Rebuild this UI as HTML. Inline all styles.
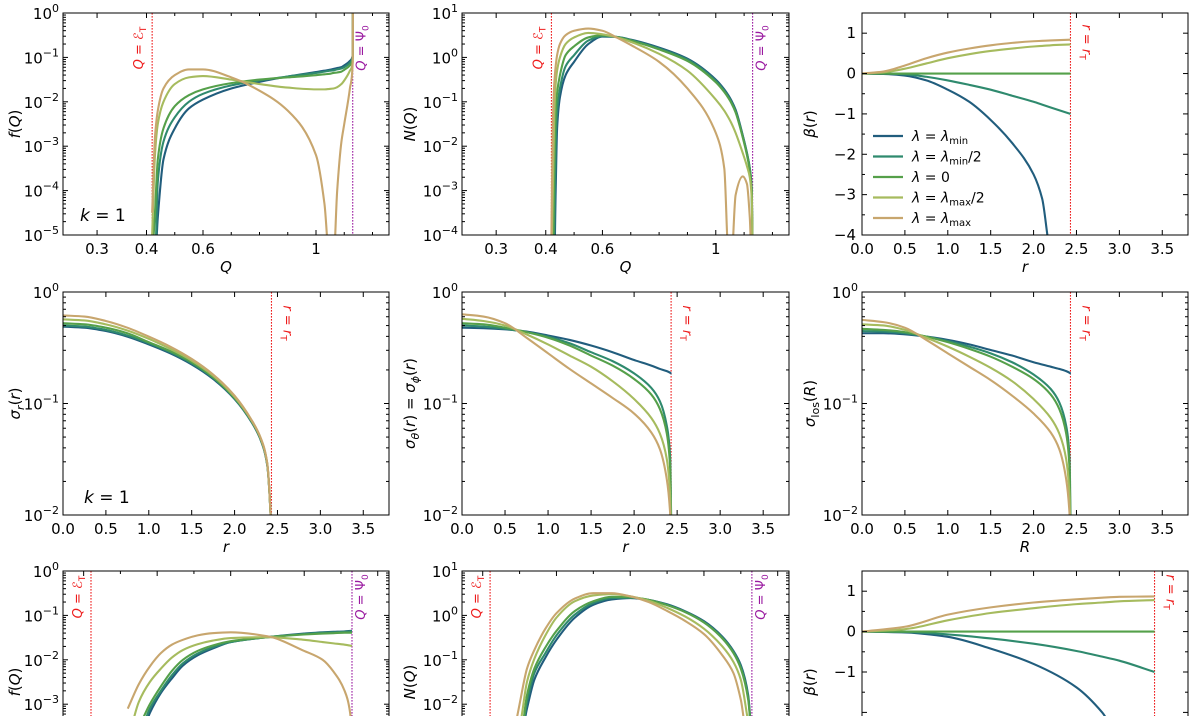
<!DOCTYPE html>
<html><head><meta charset="utf-8"><style>
html,body{margin:0;padding:0;background:#fff;width:1196px;height:716px;overflow:hidden;}
svg{display:block;font-family:"DejaVu Sans","Liberation Sans",sans-serif;}
</style></head><body>
<svg id="fig" width="1196" height="716" viewBox="0 0 1196 716" xmlns="http://www.w3.org/2000/svg"></svg>
<script>
// ---------- data ----------
const seriesNames = ['λ=λmin','λ=λmin/2','λ=0','λ=λmax/2','λ=λmax'];
const colors = ['#215d7d','#2f8a6e','#55a04a','#a6bb5e','#c8a66e'];

// Row 1, panel 1: log10 f(Q)
const p1Q = [0.42,0.43,0.44,0.46,0.5,0.55,0.6,0.7,0.8,0.9,1.0,1.03,1.048,1.062,1.075,1.09,1.1,1.12,1.13,1.1305];
const p1Blue = [-9,-9,-4.6,-3.3,-2.6,-2.15,-1.95,-1.7,-1.55,-1.43,-1.33,-1.3,-1.28,-1.26,-1.24,-1.22,-1.18,-1.08,-0.95,0];
const p1Teal = [-9,-6,-3.8,-2.9,-2.35,-2.0,-1.82,-1.63,-1.52,-1.43,-1.35,-1.32,-1.3,-1.29,-1.27,-1.25,-1.22,-1.12,-0.98,0];
const p1Green = [-9,-4.5,-3.3,-2.6,-2.1,-1.85,-1.72,-1.58,-1.5,-1.45,-1.4,-1.38,-1.37,-1.35,-1.34,-1.32,-1.28,-1.18,-1.02,0];
const p1Light = [-5,-3.2,-2.5,-2.0,-1.6,-1.45,-1.42,-1.5,-1.6,-1.68,-1.72,-1.72,-1.71,-1.7,-1.67,-1.6,-1.52,-1.3,-1.1,0];
const p1Tan = [-4.5,-2.8,-2.2,-1.7,-1.4,-1.27,-1.27,-1.45,-1.75,-2.2,-3.2,-4.3,-6,-6,-4,-2.9,-2.5,-1.7,-1.1,0];

// Row 1, panel 2: log10 N(Q)
const p2Q = [0.42,0.425,0.43,0.435,0.44,0.45,0.47,0.5,0.55,0.6,0.65,0.7,0.8,0.9,1.0,1.03,1.045,1.055,1.07,1.095,1.11,1.12,1.127,1.13];
const p2Blue = [-9,-9,-6,-3,-1.6,-0.9,-0.4,-0.1,0.3,0.47,0.46,0.4,0.22,-0.03,-0.5,-0.72,-0.86,-0.97,-1.18,-1.75,-2.15,-2.5,-3.0,-6];
const p2Teal = [-9,-9,-4,-2,-1.2,-0.7,-0.2,0.05,0.38,0.48,0.46,0.39,0.2,-0.05,-0.53,-0.75,-0.89,-1.0,-1.21,-1.77,-2.17,-2.5,-3,-6];
const p2Green = [-9,-6,-2.5,-1.3,-0.8,-0.4,0.05,0.25,0.45,0.5,0.46,0.38,0.18,-0.08,-0.56,-0.78,-0.92,-1.03,-1.24,-1.8,-2.2,-2.55,-3,-6];
const p2Light = [-9,-3,-1.3,-0.6,-0.3,0,0.3,0.45,0.55,0.52,0.45,0.35,0.08,-0.3,-0.95,-1.2,-1.36,-1.48,-1.7,-2.15,-2.45,-2.7,-3.2,-6];
const p2Tan = [-4,-1.5,-0.6,-0.2,0.05,0.3,0.5,0.6,0.65,0.6,0.45,0.28,-0.1,-0.7,-1.7,-2.5,-4.5,-5.5,-3.1,-2.68,-2.85,-3.6,-6,-6];

// Row 1, panel 3: beta(r)
const p3R = [0,0.25,0.5,0.75,1,1.25,1.5,1.75,2,2.1,2.2,2.43];
const p3Blue = [0,-0.01,-0.05,-0.17,-0.4,-0.7,-1.15,-1.72,-2.5,-3.1,-4.4,-8];
const p3Teal = [0,0,-0.02,-0.08,-0.17,-0.28,-0.4,-0.55,-0.7,-0.77,-0.84,-1.0];
const p3Green = [0,0,0,0,0,0,0,0,0,0,0,0];
const p3Light = [0,0.03,0.12,0.25,0.38,0.48,0.56,0.62,0.67,0.685,0.7,0.72];
const p3Tan = [0,0.05,0.2,0.38,0.52,0.62,0.7,0.76,0.8,0.81,0.82,0.84];

// Row 2: log10 dispersions
const r2R = [0,0.25,0.5,0.75,1,1.25,1.5,1.75,2,2.2,2.3,2.38,2.42,2.43,2.435];
const p4Blue = [-0.31,-0.32,-0.35,-0.4,-0.47,-0.55,-0.65,-0.78,-0.96,-1.17,-1.32,-1.55,-2,-2.5,-3];
const p4Teal = [-0.3,-0.31,-0.34,-0.39,-0.46,-0.54,-0.64,-0.77,-0.955,-1.165,-1.315,-1.545,-2,-2.5,-3];
const p4Green = [-0.28,-0.29,-0.32,-0.37,-0.45,-0.53,-0.63,-0.765,-0.95,-1.16,-1.31,-1.54,-2,-2.5,-3];
const p4Light = [-0.245,-0.255,-0.29,-0.345,-0.42,-0.51,-0.615,-0.75,-0.94,-1.155,-1.305,-1.535,-2,-2.5,-3];
const p4Tan = [-0.21,-0.22,-0.26,-0.32,-0.4,-0.49,-0.6,-0.74,-0.93,-1.15,-1.3,-1.53,-2,-2.5,-3];

const p5Blue = [-0.32,-0.325,-0.335,-0.355,-0.39,-0.43,-0.48,-0.54,-0.61,-0.66,-0.69,-0.71,-0.725,-0.73,-0.73];
const p5Teal = [-0.3,-0.31,-0.33,-0.36,-0.4,-0.46,-0.54,-0.62,-0.73,-0.86,-0.98,-1.2,-1.5,-2,-3];
const p5Green = [-0.28,-0.29,-0.32,-0.36,-0.41,-0.48,-0.57,-0.66,-0.78,-0.92,-1.05,-1.27,-1.6,-2.1,-3];
const p5Light = [-0.24,-0.26,-0.3,-0.38,-0.47,-0.57,-0.67,-0.8,-0.96,-1.13,-1.27,-1.5,-1.85,-2.3,-3];
const p5Tan = [-0.2,-0.22,-0.28,-0.41,-0.55,-0.69,-0.82,-0.95,-1.09,-1.26,-1.41,-1.68,-2.0,-2.5,-3];

const p6Blue = [-0.37,-0.37,-0.38,-0.4,-0.43,-0.47,-0.52,-0.57,-0.63,-0.67,-0.69,-0.71,-0.725,-0.73,-0.73];
const p6Teal = [-0.35,-0.355,-0.37,-0.4,-0.44,-0.49,-0.55,-0.63,-0.74,-0.87,-0.99,-1.2,-1.5,-2,-3];
const p6Green = [-0.33,-0.34,-0.36,-0.4,-0.45,-0.51,-0.58,-0.67,-0.78,-0.92,-1.05,-1.27,-1.6,-2.1,-3];
const p6Light = [-0.29,-0.3,-0.34,-0.41,-0.49,-0.58,-0.68,-0.8,-0.96,-1.13,-1.27,-1.5,-1.85,-2.3,-3];
const p6Tan = [-0.25,-0.27,-0.32,-0.43,-0.55,-0.67,-0.79,-0.93,-1.09,-1.26,-1.41,-1.68,-2.0,-2.5,-3];

// Row 3, panel 1: log10 f(Q)
const p7Q = [0.52,0.55,0.58,0.61,0.64,0.67,0.71,0.75,0.8,0.9,1.0,1.05,1.08,1.11,1.125,1.13];
const p7Blue = [-5,-4,-3.2,-2.75,-2.42,-2.13,-1.9,-1.75,-1.6,-1.49,-1.41,-1.38,-1.37,-1.36,-1.35,-1.35];
const p7Teal = [-5,-3.7,-3.1,-2.7,-2.35,-2.08,-1.86,-1.72,-1.6,-1.49,-1.42,-1.39,-1.38,-1.37,-1.36,-1.36];
const p7Green = [-5,-3.5,-3.0,-2.6,-2.25,-2.0,-1.8,-1.68,-1.58,-1.49,-1.43,-1.41,-1.40,-1.39,-1.39,-1.39];
const p7Light = [-4,-2.95,-2.5,-2.2,-1.95,-1.78,-1.65,-1.57,-1.51,-1.49,-1.55,-1.6,-1.63,-1.66,-1.68,-1.69];
const p7Tan = [-3.1,-2.55,-2.15,-1.85,-1.66,-1.55,-1.45,-1.4,-1.38,-1.47,-1.8,-2.0,-2.27,-2.7,-3.2,-4];

// Row 3, panel 2: log10 N(Q)
const p8Q = [0.48,0.5,0.52,0.54,0.57,0.6,0.65,0.7,0.75,0.8,0.85,0.9,0.95,1.0,1.05,1.08,1.1,1.12,1.13];
const p8Blue = [-5,-3.5,-2.1,-1.45,-0.95,-0.55,-0.05,0.24,0.36,0.39,0.35,0.25,0.09,-0.13,-0.48,-0.8,-1.12,-1.8,-5];
const p8Teal = [-5,-3.2,-1.95,-1.3,-0.85,-0.45,0.02,0.28,0.39,0.4,0.35,0.24,0.08,-0.15,-0.5,-0.82,-1.15,-1.85,-5];
const p8Green = [-5,-3,-1.8,-1.2,-0.72,-0.35,0.1,0.32,0.42,0.41,0.35,0.23,0.07,-0.16,-0.52,-0.85,-1.2,-1.9,-5];
const p8Light = [-5,-2.5,-1.5,-0.98,-0.45,-0.05,0.32,0.45,0.48,0.43,0.33,0.17,-0.03,-0.3,-0.7,-1.05,-1.45,-2.4,-5];
const p8Tan = [-4,-2.0,-1.2,-0.78,-0.3,0.05,0.38,0.5,0.5,0.43,0.3,0.1,-0.13,-0.42,-0.9,-1.3,-1.9,-4,-5];

// Row 3, panel 3: beta(r)
const p9R = [0,0.5,1,1.5,2,2.5,2.8,3.0,3.41];
const p9Blue = [0,-0.02,-0.13,-0.42,-0.8,-1.38,-2.0,-2.6,-5];
const p9Teal = [0,-0.01,-0.07,-0.17,-0.3,-0.48,-0.62,-0.72,-1.0];
const p9Green = [0,0,0,0,0,0,0,0,0];
const p9Light = [0,0.06,0.28,0.46,0.58,0.68,0.72,0.75,0.78];
const p9Tan = [0,0.12,0.42,0.6,0.72,0.8,0.84,0.86,0.87];

// tick labels
const qTickVals = [0.225,0.4,0.6,1.0];
const qTickLabels = ['0.3','0.4','0.6','1'];
const qMinor = [0.5,0.7,0.8,0.9,1.1,1.2];
const rTickVals = [0,0.5,1,1.5,2,2.5,3,3.5];
const rTickLabels = ['0.0','0.5','1.0','1.5','2.0','2.5','3.0','3.5'];
const betaTicks1 = [1,0,-1,-2,-3,-4];
const betaTicks3 = [1,0,-1,-2];
const legendLabels = [['λ = λ','min',''],['λ = λ','min','/2'],['λ = 0','',''],['λ = λ','max','/2'],['λ = λ','max','']];

// ---------- drawing ----------
const NS='http://www.w3.org/2000/svg';
const svg=document.getElementById('fig');
function mk(tag,attrs,parent){const e=document.createElementNS(NS,tag);for(const k in attrs)e.setAttribute(k,attrs[k]);(parent||svg).appendChild(e);return e;}

function smoothPath(pts){
  const n=pts.length;
  const dx=[],m=[],t=new Array(n);
  for(let i=0;i<n-1;i++){dx[i]=pts[i+1][0]-pts[i][0];m[i]=(pts[i+1][1]-pts[i][1])/(dx[i]||1e-6);}
  t[0]=m[0];t[n-1]=m[n-2];
  for(let i=1;i<n-1;i++){
    if(m[i-1]*m[i]<=0)t[i]=0;
    else{const w1=2*dx[i]+dx[i-1],w2=dx[i]+2*dx[i-1];t[i]=(w1+w2)/(w1/m[i-1]+w2/m[i]);}
  }
  let d='M'+pts[0][0].toFixed(2)+','+pts[0][1].toFixed(2);
  for(let i=0;i<n-1;i++){
    const h=dx[i]/3;
    d+=' C'+(pts[i][0]+h).toFixed(2)+','+(pts[i][1]+t[i]*h).toFixed(2)+' '+(pts[i+1][0]-h).toFixed(2)+','+(pts[i+1][1]-t[i+1]*h).toFixed(2)+' '+pts[i+1][0].toFixed(2)+','+pts[i+1][1].toFixed(2);
  }
  return d;
}

function supText(parent,x,y,base,exp,anchor,name){
  const t=mk('text',{x:x,y:y,'font-size':15,'text-anchor':anchor||'end',fill:'#000'},parent);
  
  
  const a=mk('tspan',{},t);a.textContent=base;
  const b=mk('tspan',{'font-size':11,dy:-7},t);b.textContent=exp;
  return t;
}

let clipId=0;
function panel(cfg){
  const g=mk('g',{});
  
  
  const {x0,x1,y0,y1,xmin,xmax,ymin,ymax}=cfg;
  const sx=v=>x0+(v-xmin)/(xmax-xmin)*(x1-x0);
  const sy=v=>y1-(v-ymin)/(ymax-ymin)*(y1-y0);
  const id='clip'+(clipId++);
  const cp=mk('clipPath',{id:id},g);mk('rect',{x:x0,y:y0,width:x1-x0,height:y1-y0},cp);
  const plot=mk('g',{'clip-path':'url(#'+id+')'},g);
  
  
  (cfg.vlines||[]).forEach(vl=>{
    const ln=mk('line',{x1:sx(vl.v),x2:sx(vl.v),y1:y0,y2:y1,stroke:vl.color,'stroke-width':1.1,'stroke-dasharray':'1.6,1.4'},plot);
    
    
  });
  cfg.series.forEach((vals,i)=>{
    const pts=cfg.xs.map((xv,j)=>[sx(xv),Math.max(y0-40,Math.min(y1+25,sy(vals[j])))]);
    const p=mk('path',{d:smoothPath(pts),fill:'none',stroke:colors[i],'stroke-width':2.1,'stroke-linejoin':'round'},plot);
    
    
  });
  (cfg.vlines||[]).forEach(vl=>{
    const tx=sx(vl.v)+vl.dx;
    const t=mk('text',{x:0,y:0,'font-size':13,fill:vl.color,'text-anchor':'middle',transform:'translate('+tx+','+vl.ty+') rotate('+vl.rot+')'},g);
    
    
    const a=mk('tspan',{'font-style':'italic'},t);a.textContent=vl.l1;
    const b=mk('tspan',{},t);b.textContent=' = ';
    const c=mk('tspan',{'font-style':vl.l2it?'italic':'normal'},t);c.textContent=vl.l2;
    const d=mk('tspan',{'font-size':9,dy:3},t);d.textContent=vl.sub;
  });
  const fr=mk('rect',{x:x0,y:y0,width:x1-x0,height:y1-y0,fill:'none',stroke:'#000','stroke-width':1},g);
  
  
  const tk=mk('g',{stroke:'#000','stroke-width':1},g);
  
  
  function xt(v,len){const X=sx(v);if(X<x0-0.5||X>x1+0.5)return;if(y1<716)mk('line',{x1:X,x2:X,y1:y1,y2:y1-len},tk);mk('line',{x1:X,x2:X,y1:y0,y2:y0+len},tk);}
  function yt(v,len){const Y=sy(v);if(Y<y0-0.5||Y>y1+0.5||Y>715)return;mk('line',{x1:x0,x2:x0+len,y1:Y,y2:Y},tk);mk('line',{x1:x1,x2:x1-len,y1:Y,y2:Y},tk);}
  cfg.xTicks.forEach((v,i)=>{xt(v,5);
    if(cfg.xLabels){const t=mk('text',{x:sx(v),y:y1+19,'font-size':15,'text-anchor':'middle'},g);t.textContent=cfg.xLabels[i];
      
      }
  });
  (cfg.xMinor||[]).forEach(v=>xt(v,3));
  if(cfg.ylog){
    for(let e=Math.ceil(ymin);e<=ymax;e++){yt(e,5);const Y=sy(e);if(Y<=712)supText(g,x0-4,Y+6,'10',e<0?'−'+(-e):String(e),'end','y-tick-label');}
    for(let e=Math.floor(ymin);e<ymax;e++)for(let m=2;m<10;m++){const v=e+Math.log10(m);if(v>ymin&&v<ymax)yt(v,3);}
  } else {
    cfg.yTicks.forEach(v=>{yt(v,5);const Y=sy(v);if(Y>712)return;const t=mk('text',{x:x0-6,y:Y+5,'font-size':15,'text-anchor':'end'},g);t.textContent=(v<0?'−'+(-v):String(v));
      
      });
    for(let v=Math.ceil(ymin*2)/2;v<=ymax;v+=0.5){if(Math.abs(v-Math.round(v))>0.1)yt(v,3);}
  }
  if(cfg.xTitle){const t=mk('text',{x:(x0+x1)/2,y:y1+37,'font-size':15,'text-anchor':'middle','font-style':'italic'},g);t.textContent=cfg.xTitle;
    
    }
  const yl=mk('text',{x:0,y:0,'font-size':15,'text-anchor':'middle',transform:'translate('+cfg.ylx+','+(cfg.yly||((y0+y1)/2))+') rotate(-90)'},g);
  
  
  cfg.yTitle.forEach(p=>{const s=mk('tspan',p[1],yl);s.textContent=p[0];});
  if(cfg.kx){const t=mk('text',{x:cfg.kx,y:cfg.ky,'font-size':17},g);
    
    
    const a=mk('tspan',{'font-style':'italic'},t);a.textContent='k';const b=mk('tspan',{},t);b.textContent=' = 1';}
  return {g,sx,sy};
}

const X1=[63,389],X2=[462,789],X3=[862,1188];
const R1=[13,235],R2=[292,515],R3=[571,717];
const LOGPX=44.4, BETAPX=40.4;
const r3LogSpan=(R3[1]-R3[0])/LOGPX, r3BetaSpan=(R3[1]-R3[0])/BETAPX;
const QA=0.6-140/282.5, QB=0.6+186/282.5;
const Q3A=0.42-28/367.6, Q3B=0.42+298/367.6;
const red='#ee1c1c', purple='#9a1aa0';
const vE=(v,dx)=>({v:v,nm:'epsilon-t',color:red,l1:'Q',l2:'ℰ',l2it:false,sub:'T',dx:dx,rot:-90});
const vP=(v,dx)=>({v:v,nm:'psi-0',color:purple,l1:'Q',l2:'Ψ',l2it:false,sub:'0',dx:dx,rot:-90});
const vR=(v,dx)=>({v:v,nm:'r-t',color:red,l1:'r',l2:'r',l2it:true,sub:'T',dx:dx,rot:90});
function withY(o,y){o.ty=y;return o;}
const S=(a,b,c,d,e)=>[a,b,c,d,e];
const it={'font-style':'italic'}, no={};

panel({name:'f-of-Q-top',x0:X1[0],x1:X1[1],y0:R1[0],y1:R1[1],xmin:QA,xmax:QB,ymin:-5,ymax:0,ylog:true,
  xs:p1Q,series:S(p1Blue,p1Teal,p1Green,p1Light,p1Tan),xTicks:qTickVals,xLabels:qTickLabels,xMinor:qMinor,xTitle:'Q',
  vlines:[withY(vE(0.42,-9),48),withY(vP(1.13,13),48)],ylx:20,yTitle:[['f',it],['(',no],['Q',it],[')',no]],kx:80,ky:221});
panel({name:'N-of-Q-top',x0:X2[0],x1:X2[1],y0:R1[0],y1:R1[1],xmin:QA,xmax:QB,ymin:-4,ymax:1,ylog:true,
  xs:p2Q,series:S(p2Blue,p2Teal,p2Green,p2Light,p2Tan),xTicks:qTickVals,xLabels:qTickLabels,xMinor:qMinor,xTitle:'Q',
  vlines:[withY(vE(0.42,-9),48),withY(vP(1.13,13),48)],ylx:415,yTitle:[['N',it],['(',no],['Q',it],[')',no]]});
panel({name:'beta-top',x0:X3[0],x1:X3[1],y0:R1[0],y1:R1[1],xmin:0,xmax:3.8,ymin:-4,ymax:1.5,ylog:false,yTicks:betaTicks1,
  xs:p3R,series:S(p3Blue,p3Teal,p3Green,p3Light,p3Tan),xTicks:rTickVals,xLabels:rTickLabels,xTitle:'r',
  vlines:[withY(vR(2.43,12),42)],ylx:815,yTitle:[['β',it],['(',no],['r',it],[')',no]]});
panel({name:'sigma-r',x0:X1[0],x1:X1[1],y0:R2[0],y1:R2[1],xmin:0,xmax:3.8,ymin:-2,ymax:0,ylog:true,
  xs:r2R,series:S(p4Blue,p4Teal,p4Green,p4Light,p4Tan),xTicks:rTickVals,xLabels:rTickLabels,xTitle:'r',
  vlines:[withY(vR(2.43,12),323)],ylx:20,yTitle:[['σ',it],['r',{'font-size':11,dy:4,'font-style':'italic'}],['(',{dy:-4}],['r',it],[')',no]],kx:84,ky:503});
panel({name:'sigma-theta',x0:X2[0],x1:X2[1],y0:R2[0],y1:R2[1],xmin:0,xmax:3.8,ymin:-2,ymax:0,ylog:true,
  xs:r2R,series:S(p5Blue,p5Teal,p5Green,p5Light,p5Tan),xTicks:rTickVals,xLabels:rTickLabels,xTitle:'r',
  vlines:[withY(vR(2.43,12),323)],ylx:415,yTitle:[['σ',it],['θ',{'font-size':11,dy:4,'font-style':'italic'}],['(',{dy:-4}],['r',it],[') = ',no],['σ',it],['ϕ',{'font-size':11,dy:4,'font-style':'italic'}],['(',{dy:-4}],['r',it],[')',no]]});
panel({name:'sigma-los',x0:X3[0],x1:X3[1],y0:R2[0],y1:R2[1],xmin:0,xmax:3.8,ymin:-2,ymax:0,ylog:true,
  xs:r2R,series:S(p6Blue,p6Teal,p6Green,p6Light,p6Tan),xTicks:rTickVals,xLabels:rTickLabels,xTitle:'R',
  vlines:[withY(vR(2.43,12),323)],ylx:815,yTitle:[['σ',it],['los',{'font-size':11,dy:4}],['(',{dy:-4}],['R',it],[')',no]]});
panel({name:'f-of-Q-bottom',x0:X1[0],x1:X1[1],y0:R3[0],y1:R3[1],xmin:Q3A,xmax:Q3B,ymin:0-r3LogSpan,ymax:0,ylog:true,
  xs:p7Q,series:S(p7Blue,p7Teal,p7Green,p7Light,p7Tan),xTicks:[0.4,0.6,0.8,1.0,1.2],xMinor:[0.5,0.7,0.9,1.1],
  vlines:[withY(vE(0.42,-9),597),withY(vP(1.13,13),597)],ylx:20,yly:682,yTitle:[['f',it],['(',no],['Q',it],[')',no]]});
panel({name:'N-of-Q-bottom',x0:X2[0],x1:X2[1],y0:R3[0],y1:R3[1],xmin:Q3A,xmax:Q3B,ymin:1-r3LogSpan,ymax:1,ylog:true,
  xs:p8Q,series:S(p8Blue,p8Teal,p8Green,p8Light,p8Tan),xTicks:[0.4,0.6,0.8,1.0,1.2],xMinor:[0.5,0.7,0.9,1.1],
  vlines:[withY(vE(0.42,-9),597),withY(vP(1.13,13),597)],ylx:415,yly:682,yTitle:[['N',it],['(',no],['Q',it],[')',no]]});
panel({name:'beta-bottom',x0:X3[0],x1:X3[1],y0:R3[0],y1:R3[1],xmin:0,xmax:3.8,ymin:1.5-r3BetaSpan,ymax:1.5,ylog:false,yTicks:betaTicks3,
  xs:p9R,series:S(p9Blue,p9Teal,p9Green,p9Light,p9Tan),xTicks:rTickVals,
  vlines:[withY(vR(3.41,12),592)],ylx:815,yly:682,yTitle:[['β',it],['(',no],['r',it],[')',no]]});

// legend in beta-top panel
const lg=mk('g',{});


legendLabels.forEach((lab,i)=>{
  const y=136+i*20.5;
  const e=mk('g',{},lg);
  
  
  mk('line',{x1:873,x2:903,y1:y,y2:y,stroke:colors[i],'stroke-width':2.3},e);
  const t=mk('text',{x:912,y:y+5,'font-size':14},e);
  const a=mk('tspan',{'font-style':'italic'},t);a.textContent='λ';
  const b=mk('tspan',{},t);b.textContent=' = ';
  const c=mk('tspan',{'font-style':lab[1]?'italic':'normal'},t);c.textContent=lab[1]?'λ':'0';
  if(lab[1]){const d=mk('tspan',{'font-size':10,dy:3},t);d.textContent=lab[1];
    if(lab[2]){const f=mk('tspan',{dy:-3},t);f.textContent=lab[2];}}
});
</script>
</body></html>
